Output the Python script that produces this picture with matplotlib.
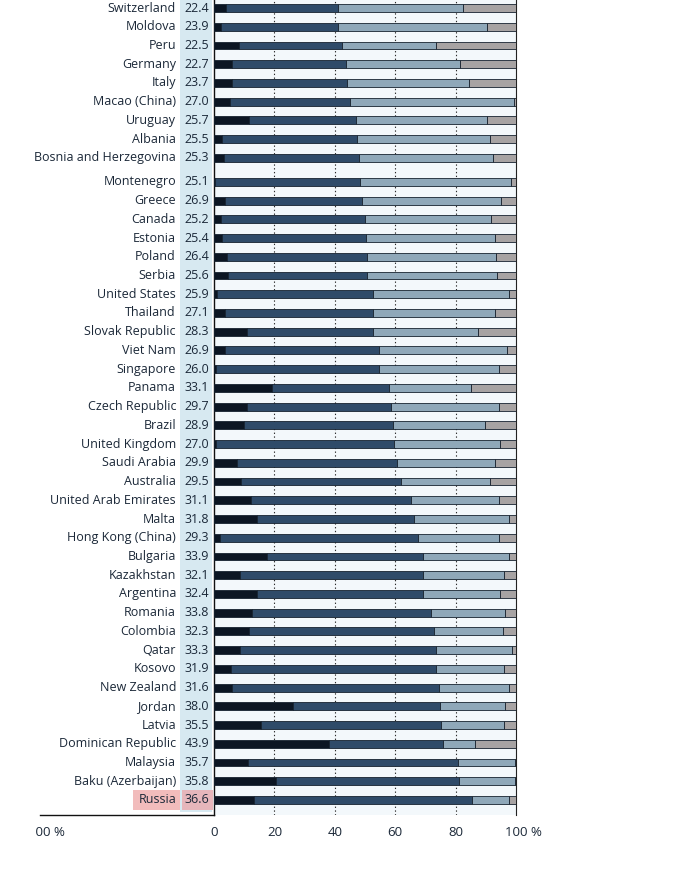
import matplotlib
matplotlib.use("Agg")
import matplotlib.pyplot as plt
import matplotlib.transforms as mtransforms
from matplotlib.patches import Rectangle
from matplotlib.lines import Line2D
from matplotlib.transforms import Bbox
import numpy as np

plt.rcParams['font.family'] = ['Open Sans', 'DejaVu Sans']

countries = ["Switzerland", "Moldova", "Peru", "Germany", "Italy", "Macao (China)",
             "Uruguay", "Albania", "Bosnia and Herzegovina", "Montenegro", "Greece",
             "Canada", "Estonia", "Poland", "Serbia", "United States", "Thailand",
             "Slovak Republic", "Viet Nam", "Singapore", "Panama", "Czech Republic",
             "Brazil", "United Kingdom", "Saudi Arabia", "Australia",
             "United Arab Emirates", "Malta", "Hong Kong (China)", "Bulgaria",
             "Kazakhstan", "Argentina", "Romania", "Colombia", "Qatar", "Kosovo",
             "New Zealand", "Jordan", "Latvia", "Dominican Republic", "Malaysia",
             "Baku (Azerbaijan)", "Russia"]

values = [22.4, 23.9, 22.5, 22.7, 23.7, 27.0, 25.7, 25.5, 25.3, 25.1, 26.9, 25.2,
          25.4, 26.4, 25.6, 25.9, 27.1, 28.3, 26.9, 26.0, 33.1, 29.7, 28.9, 27.0,
          29.9, 29.5, 31.1, 31.8, 29.3, 33.9, 32.1, 32.4, 33.8, 32.3, 33.3, 31.9,
          31.6, 38.0, 35.5, 43.9, 35.7, 35.8, 36.6]

seg_black = [3.9, 2.2, 8.4, 5.9, 5.9, 5.3, 11.5, 2.8, 3.2, 0.4, 3.6, 2.3, 2.8, 4.3,
             4.5, 0.9, 3.6, 10.8, 3.6, 0.7, 19.1, 11.0, 9.9, 0.7, 7.5, 8.8, 12.3,
             14.4, 2.0, 17.5, 8.6, 14.4, 12.7, 11.6, 8.6, 5.6, 6.1, 26.0, 15.5,
             38.1, 11.4, 20.6, 13.4]
seg_dark = [37.1, 39.0, 34.0, 37.7, 38.0, 39.8, 35.4, 44.5, 44.9, 48.1, 45.4, 47.6,
            47.6, 46.3, 46.2, 51.6, 48.9, 41.8, 50.9, 54.0, 39.0, 47.7, 49.5, 59.0,
            53.1, 53.2, 53.0, 51.9, 65.7, 51.6, 60.5, 54.7, 59.1, 61.1, 64.9, 67.9,
            68.3, 48.8, 59.7, 37.7, 69.3, 60.6, 72.0]
seg_light = [41.3, 49.2, 31.1, 37.7, 40.6, 54.1, 43.5, 44.2, 44.3, 49.7, 45.9, 41.9,
             42.5, 42.7, 43.1, 45.1, 40.6, 34.7, 42.5, 39.6, 27.1, 35.8, 30.4, 35.1,
             32.3, 29.5, 29.0, 31.5, 26.6, 28.5, 26.8, 25.7, 24.7, 22.9, 25.2, 22.4,
             23.4, 21.4, 20.7, 10.5, 19.1, 18.6, 12.2]
seg_gray = [17.7, 9.6, 26.5, 18.7, 15.5, 0.8, 9.6, 8.5, 7.6, 1.8, 5.1, 8.2, 7.1, 6.7,
            6.2, 2.4, 6.9, 12.7, 3.0, 5.7, 14.8, 5.5, 10.2, 5.2, 7.1, 8.5, 5.7, 2.2,
            5.7, 2.4, 4.1, 5.2, 3.5, 4.4, 1.3, 4.1, 2.2, 3.8, 4.1, 13.7, 0.2, 0.2, 2.4]

xticks = [0, 20, 40, 60, 80]
xtick_labels = ["0", "20", "40", "60", "80"]
last_tick_label = "100 %"
left_panel_label = "100 %"

highlight = "Russia"

W, H = 694, 869
fig = plt.figure(figsize=(W / 100, H / 100), dpi=100)

ax_left = 214 / W
ax_right = 516 / W
ax_bottom = (H - 815) / H
ax = fig.add_axes([ax_left, ax_bottom, ax_right - ax_left, 1 - ax_bottom])
ax.set_facecolor('#f3f8fb')

n = len(countries)
ypos = np.array([i + (0.28 if i > 8 else 0.0) for i in range(n)])

seg_colors = ['#0c1623', '#2f4b69', '#8fa8b9', '#a7a3a3']
segs = [seg_black, seg_dark, seg_light, seg_gray]
left = np.zeros(n)
for seg, col in zip(segs, seg_colors):
    seg = np.array(seg)
    ax.barh(ypos, seg, left=left, height=0.42, color=col, edgecolor='#16222f',
            linewidth=0.6, zorder=3)
    left = left + seg

ax.set_xlim(0, 100)
ax.set_ylim(42.28 + 15 / 18.73, -8 / 18.73)

for g in [20, 40, 60, 80]:
    ax.axvline(g, color='#2a2a2a', linewidth=0.8, linestyle=(0, (1.2, 2.2)), zorder=1)

text_color = '#1b2838'
tick_y = (H - 833) / H
ax.set_yticks([])
ax.set_xticks([])
xt = mtransforms.blended_transform_factory(ax.transData, fig.transFigure)
for xv, lab in zip(xticks, xtick_labels):
    ax.text(xv, tick_y, lab, transform=xt, ha='center', va='center',
            fontsize=9.5, color=text_color, clip_on=False)
ax.text(100, tick_y, last_tick_label,
        transform=mtransforms.offset_copy(xt, fig=fig, x=-11, y=0, units='dots'),
        ha='left', va='center', fontsize=9.5, color=text_color, clip_on=False)

for s in ['top', 'bottom']:
    ax.spines[s].set_visible(False)
ax.spines['left'].set_linewidth(1.0)
ax.spines['left'].set_color('#111111')
ax.spines['right'].set_linewidth(0.8)
ax.spines['right'].set_color('#222222')

# label column background
ax.add_patch(Rectangle((180 / W, (H - 812) / H), 32 / W, 812 / H,
                       transform=fig.transFigure, facecolor='#d7e9f1',
                       edgecolor='none', zorder=0.5, clip_on=False))

ytrans = mtransforms.blended_transform_factory(fig.transFigure, ax.transData)
for i, (c, v) in enumerate(zip(countries, values)):
    y = ypos[i]
    if c == highlight:
        ax.add_patch(Rectangle((133 / W, y - 0.55), (180 - 133) / W, 1.08,
                               transform=ytrans, facecolor='#f2bcbc',
                               edgecolor='none', clip_on=False, zorder=1))
        ax.add_patch(Rectangle((182 / W, y - 0.55), (213 - 182) / W, 1.08,
                               transform=ytrans, facecolor='#e6b6bb',
                               edgecolor='none', clip_on=False, zorder=1))
    ax.text(176 / W, y, c, transform=ytrans, ha='right', va='center',
            fontsize=9, color=text_color, clip_on=False, zorder=2)
    ax.text(197 / W, y, f"{v:.1f}", transform=ytrans, ha='center', va='center',
            fontsize=9, color=text_color, clip_on=False, zorder=2)

# left panel axis line (from neighbouring panel)
fig.add_artist(Line2D([40 / W, 214 / W], [(H - 815) / H, (H - 815) / H],
                      transform=fig.transFigure, color='#111111', linewidth=1.0))
t = fig.text(46 / W, tick_y, left_panel_label, ha='center', va='center',
             fontsize=9.5, color=text_color)
t.set_clip_box(Bbox([[36, 0], [W, H]]))
t.set_clip_on(True)

fig.savefig("out.png", dpi=100)
